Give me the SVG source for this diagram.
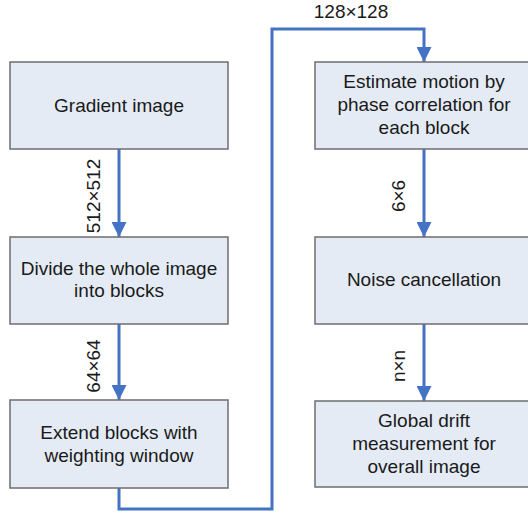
<svg xmlns="http://www.w3.org/2000/svg" width="528" height="513" viewBox="0 0 528 513">
<defs>
<style>
.box{fill:#e4ebf5;stroke:#6e6e6e;stroke-width:1.5}
.t{font-family:"Liberation Sans",Arial,sans-serif;font-size:19px;fill:#1a1a1a;text-anchor:middle}
.c{fill:none;stroke:#4472c4;stroke-width:3;marker-end:url(#ah)}
</style>
<marker id="ah" viewBox="0 0 10 10" refX="10" refY="5" markerWidth="5" markerHeight="5" markerUnits="strokeWidth" orient="auto">
<path d="M0,0 L10,5 L0,10 Z" fill="#4472c4"/>
</marker>
</defs>
<rect width="528" height="513" fill="#ffffff"/>
<g id="connectors">
<path class="c" d="M119,149 V237"/>
<path class="c" d="M119,324 V400"/>
<path class="c" d="M119,488 V509 H272 V29 H424 V62"/>
<path class="c" d="M424,149 V237"/>
<path class="c" d="M424,324 V401"/>
<text class="t" x="351" y="18">128×128</text>
<text class="t" transform="translate(100,196) rotate(-90)">512×512</text>
<text class="t" transform="translate(100,366) rotate(-90)">64×64</text>
<text class="t" transform="translate(405,196) rotate(-90)">6×6</text>
<text class="t" transform="translate(405,366) rotate(-90)">n×n</text>
</g>
<g id="n1"><rect class="box" x="10" y="62" width="218" height="87"/><text class="t" x="119" y="112">Gradient image</text></g>
<g id="n2"><rect class="box" x="10" y="237" width="218" height="87"/><text class="t" x="119" y="275">Divide the whole image</text><text class="t" x="119" y="297">into blocks</text></g>
<g id="n3"><rect class="box" x="10" y="400" width="218" height="88"/><text class="t" x="119" y="439">Extend blocks with</text><text class="t" x="119" y="462">weighting window</text></g>
<g id="n4"><rect class="box" x="315" y="62" width="218" height="87"/><text class="t" x="424" y="88">Estimate motion by</text><text class="t" x="424" y="111">phase correlation for</text><text class="t" x="424" y="134">each block</text></g>
<g id="n5"><rect class="box" x="315" y="237" width="218" height="87"/><text class="t" x="424" y="286">Noise cancellation</text></g>
<g id="n6"><rect class="box" x="315" y="401" width="218" height="86"/><text class="t" x="424" y="427">Global drift</text><text class="t" x="424" y="450">measurement for</text><text class="t" x="424" y="473">overall image</text></g>
</svg>
